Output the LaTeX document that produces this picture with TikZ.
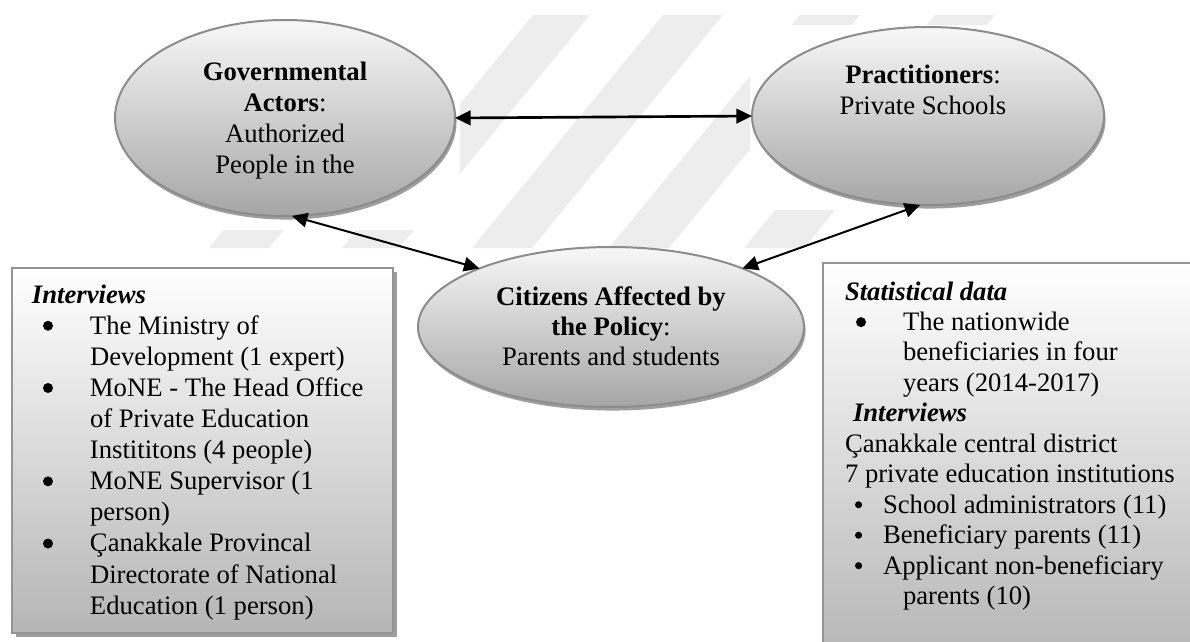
\documentclass[tikz,border=0pt]{standalone}
\usepackage{fontspec}
\setmainfont{Liberation Serif}
\usetikzlibrary{shapes.geometric,arrows.meta,shadows}
\newcommand\mydot[1]{\tikz[baseline=0pt]\fill[black] (0pt,3.75pt) circle (#1);}
\newcommand\mybul[1]{\hspace*{4.95pt}\makebox[21.15pt][l]{\mydot{2.25pt}}#1}
\newcommand\mysbul[1]{\hspace*{4.5pt}\makebox[12.6pt][l]{\mydot{1.6pt}}#1}
\newcommand\mycont[1]{\hspace*{26.1pt}#1}
\begin{document}
\begin{tikzpicture}[x=0.45pt,y=-0.45pt,
  bubble/.style={ellipse, draw=black!45, line width=0.9pt, top color=black!3, bottom color=black!35,
    inner sep=0pt, outer sep=0pt,
    general shadow={fill=black!38, draw=none, shadow xshift=0.7pt, shadow yshift=-1.6pt}},
  infobox/.style={rectangle, draw=black!42, line width=0.9pt, top color=white, bottom color=black!29,
    inner sep=0pt, outer sep=0pt, anchor=north west,
    general shadow={fill=black!38, draw=none, shadow xshift=1.6pt, shadow yshift=-1.8pt}},
  txt/.style={inner sep=0pt, outer sep=0pt, anchor=base},
  link/.style={{Triangle[length=7pt,width=6.5pt]}-{Triangle[length=7pt,width=6.5pt]}, line width=0.9pt, black},
  wmark/.style={fill=black!7, draw=none}
]
\useasboundingbox (0,0) rectangle (1190,642);
\begin{scope}
\clip (0,0) rectangle (1190,642);
% faint watermark stripes
\fill[wmark] (400,15) -- (460,15) -- (269,248) -- (209,248) -- cycle;
\fill[wmark] (533,15) -- (590,15) -- (399,248) -- (342,248) -- cycle;
\fill[wmark] (663,15) -- (723,15) -- (532,248) -- (472,248) -- cycle;
\fill[wmark] (800,15) -- (860,15) -- (669,248) -- (609,248) -- cycle;
\fill[wmark] (935,15) -- (995,15) -- (804,248) -- (744,248) -- cycle;
\fill[white] (110,10) rectangle (460,230);
\fill[white] (750,25) rectangle (1110,210);

% ellipses
\node[bubble, minimum width=153pt, minimum height=88.2pt] (e1) at (285,118) {};
\node[bubble, minimum width=158.4pt, minimum height=80.1pt] (e2) at (928,116) {};
\node[bubble, minimum width=173.7pt, minimum height=72pt] (e3) at (611,327) {};

\node[txt] (t1) at (285,80) {\fontsize{12}{14}\selectfont\begin{tabular}[t]{@{}c@{}}\textbf{Governmental}\\\textbf{Actors}:\\Authorized\\People in the\end{tabular}};
\node[txt] (t2) at (923,83) {\fontsize{12}{14.2}\selectfont\begin{tabular}[t]{@{}c@{}}\textbf{Practitioners}:\\Private Schools\end{tabular}};
\node[txt] (t3) at (611,305) {\fontsize{12}{13.5}\selectfont\begin{tabular}[t]{@{}c@{}}\textbf{Citizens Affected by}\\\textbf{the Policy}:\\Parents and students\end{tabular}};

% connectors
\draw[link, line width=1.2pt] (e1.east) -- (e2.west);
\draw[link] (e1.-86) -- (e3.156);
\draw[link] (e3.24) -- (e2.-95);

% boxes
\node[infobox, minimum width=171.45pt, minimum height=164.25pt] (lbox) at (12,268) {};
\node[infobox, minimum width=169.65pt, minimum height=178.65pt] (rbox) at (823,263) {};

\node[txt, anchor=base west] (tl) at (32,303) {\fontsize{12}{14}\selectfont\begin{tabular}[t]{@{}l@{}}
\textbf{\textit{Interviews}}\\
\mybul{The Ministry of}\\
\mycont{Development (1 expert)}\\
\mybul{MoNE - The Head Office}\\
\mycont{of Private Education}\\
\mycont{Instititons (4 people)}\\
\mybul{MoNE Supervisor (1}\\
\mycont{person)}\\
\mybul{Çanakkale Provincal}\\
\mycont{Directorate of National}\\
\mycont{Education (1 person)}
\end{tabular}};

\node[txt, anchor=base west] (tr) at (845,300) {\fontsize{12}{13.7}\selectfont\begin{tabular}[t]{@{}l@{}}
\textbf{\textit{Statistical data}}\\
\mybul{The nationwide}\\
\mycont{beneficiaries in four}\\
\mycont{years (2014-2017)}\\
\hspace*{3.6pt}\textbf{\textit{Interviews}}\\
Çanakkale central district\\
7 private education institutions\\
\mysbul{School administrators (11)}\\
\mysbul{Beneficiary parents (11)}\\
\mysbul{Applicant non-beneficiary}\\
\mycont{parents (10)}
\end{tabular}};
\end{scope}
\end{tikzpicture}
\end{document}
